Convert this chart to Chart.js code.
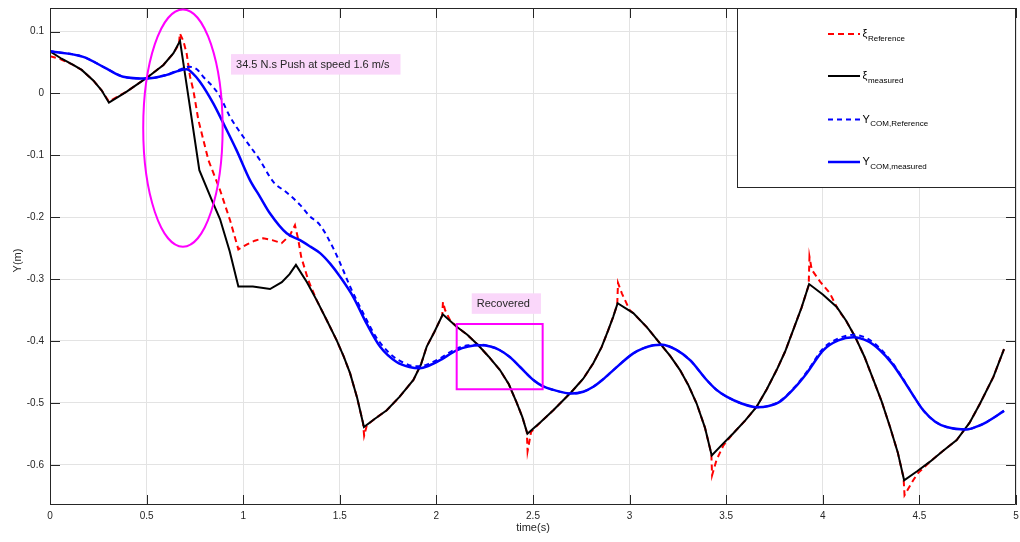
<!DOCTYPE html>
<html>
<head>
<meta charset="utf-8">
<script src="https://cdn.jsdelivr.net/npm/chart.js@4/dist/chart.umd.min.js"></script>
<style>
html,body{margin:0;padding:0;background:#fff;}
#wrap{width:1020px;height:542px;}
</style>
</head>
<body>
<div id="wrap"><canvas id="c" width="1020" height="542"></canvas></div>
<script>
// ---------- data ----------
const xTicks = [0,0.5,1,1.5,2,2.5,3,3.5,4,4.5,5];
const yTicks = [-0.6,-0.5,-0.4,-0.3,-0.2,-0.1,0,0.1];

const seriesLabels = ['ξ Reference','ξ measured','Y COM,Reference','Y COM,measured'];
const legendMain = ['ξ','ξ','Y','Y'];
const legendSub = ['Reference','measured','COM,Reference','COM,measured'];

const xiRefT = [0,0.05,0.12,0.164,0.224,0.267,0.305,0.397,0.5,0.587,0.639,0.668,0.672,0.69,0.707,0.725,0.742,0.768,0.82,0.88,0.932,0.975,1.02,1.06,1.104,1.15,1.199,1.242,1.268,1.285,1.3,1.337,1.38,1.43,1.484,1.52,1.553,1.59,1.62,1.626,1.64,1.68,1.743,1.81,1.881,1.92,1.95,1.99,2.03,2.034,2.045,2.07,2.105,2.16,2.217,2.27,2.329,2.375,2.416,2.445,2.468,2.472,2.49,2.54,2.605,2.7,2.76,2.812,2.855,2.89,2.915,2.936,2.94,2.96,3.0,3.019,3.09,3.157,3.21,3.261,3.305,3.347,3.39,3.423,3.427,3.45,3.485,3.537,3.6,3.658,3.71,3.761,3.805,3.847,3.89,3.927,3.931,3.943,3.986,4.037,4.08,4.12,4.167,4.215,4.262,4.305,4.348,4.388,4.418,4.423,4.44,4.468,4.494,4.555,4.62,4.693,4.76,4.814,4.883,4.938];
const xiRefY = [0.06,0.056,0.046,0.038,0.021,0.005,-0.013,0.003,0.025,0.046,0.065,0.08,0.097,0.085,0.065,0.027,0.005,-0.043,-0.108,-0.156,-0.205,-0.252,-0.244,-0.238,-0.234,-0.237,-0.242,-0.229,-0.213,-0.236,-0.264,-0.302,-0.334,-0.365,-0.399,-0.425,-0.452,-0.492,-0.532,-0.553,-0.536,-0.526,-0.512,-0.49,-0.463,-0.438,-0.409,-0.385,-0.359,-0.337,-0.35,-0.366,-0.377,-0.39,-0.407,-0.425,-0.447,-0.47,-0.5,-0.523,-0.547,-0.578,-0.547,-0.531,-0.512,-0.482,-0.461,-0.436,-0.41,-0.382,-0.361,-0.341,-0.306,-0.323,-0.35,-0.355,-0.378,-0.404,-0.424,-0.447,-0.472,-0.501,-0.54,-0.582,-0.617,-0.592,-0.569,-0.549,-0.528,-0.506,-0.478,-0.447,-0.417,-0.382,-0.346,-0.31,-0.264,-0.285,-0.304,-0.323,-0.35,-0.367,-0.393,-0.425,-0.463,-0.498,-0.539,-0.58,-0.621,-0.649,-0.64,-0.625,-0.613,-0.595,-0.578,-0.56,-0.532,-0.501,-0.458,-0.413];

const xiMeasT = [0,0.06,0.12,0.164,0.224,0.267,0.305,0.397,0.5,0.587,0.639,0.673,0.72,0.773,0.837,0.88,0.93,0.975,1.05,1.139,1.2,1.24,1.273,1.33,1.38,1.43,1.484,1.52,1.553,1.59,1.625,1.68,1.743,1.81,1.881,1.92,1.95,1.99,2.033,2.105,2.16,2.217,2.27,2.329,2.375,2.416,2.445,2.471,2.54,2.605,2.7,2.76,2.812,2.855,2.89,2.915,2.938,3.019,3.09,3.157,3.21,3.261,3.305,3.347,3.39,3.425,3.48,3.537,3.6,3.658,3.71,3.761,3.805,3.847,3.89,3.929,4.0,4.072,4.12,4.167,4.215,4.262,4.305,4.348,4.388,4.421,4.49,4.555,4.62,4.693,4.76,4.814,4.883,4.938];
const xiMeasY = [0.068,0.056,0.046,0.038,0.021,0.005,-0.015,0.003,0.025,0.046,0.065,0.085,-0.013,-0.124,-0.172,-0.203,-0.255,-0.312,-0.312,-0.316,-0.305,-0.292,-0.277,-0.305,-0.334,-0.365,-0.399,-0.425,-0.452,-0.492,-0.539,-0.526,-0.512,-0.49,-0.463,-0.438,-0.409,-0.385,-0.357,-0.377,-0.39,-0.407,-0.425,-0.447,-0.47,-0.5,-0.523,-0.55,-0.531,-0.512,-0.482,-0.461,-0.436,-0.41,-0.382,-0.361,-0.339,-0.355,-0.378,-0.404,-0.424,-0.447,-0.472,-0.501,-0.54,-0.585,-0.567,-0.549,-0.528,-0.506,-0.478,-0.447,-0.417,-0.382,-0.346,-0.308,-0.325,-0.345,-0.367,-0.393,-0.425,-0.463,-0.498,-0.539,-0.58,-0.625,-0.61,-0.595,-0.578,-0.56,-0.532,-0.501,-0.458,-0.413];

const comRefT = [0,0.172,0.293,0.379,0.5,0.604,0.66,0.72,0.76,0.793,0.84,0.88,0.932,1.0,1.087,1.156,1.225,1.294,1.34,1.398,1.466,1.51,1.553,1.6,1.639,1.68,1.725,1.78,1.829,1.87,1.915,1.96,2.019,2.105,2.165,2.226,2.28,2.329,2.38,2.433,2.502,2.55,2.605,2.7,2.76,2.812,2.87,2.916,3.019,3.07,3.123,3.166,3.24,3.313,3.399,3.45,3.502,3.58,3.658,3.72,3.778,3.85,3.917,4.002,4.08,4.158,4.23,4.296,4.36,4.417,4.47,4.52,4.58,4.641,4.745,4.8,4.848,4.938];
const comRefY = [0.068,0.059,0.04,0.027,0.024,0.03,0.037,0.043,0.039,0.027,0.012,-0.005,-0.038,-0.07,-0.108,-0.143,-0.16,-0.18,-0.197,-0.213,-0.25,-0.28,-0.312,-0.342,-0.366,-0.39,-0.409,-0.426,-0.435,-0.44,-0.441,-0.437,-0.428,-0.412,-0.407,-0.406,-0.409,-0.415,-0.426,-0.442,-0.463,-0.473,-0.479,-0.485,-0.482,-0.474,-0.46,-0.447,-0.42,-0.412,-0.407,-0.406,-0.414,-0.431,-0.463,-0.479,-0.49,-0.501,-0.507,-0.505,-0.497,-0.476,-0.45,-0.412,-0.396,-0.39,-0.396,-0.412,-0.435,-0.462,-0.489,-0.512,-0.53,-0.539,-0.543,-0.538,-0.531,-0.513];

const comMeasT = [0,0.172,0.293,0.379,0.5,0.604,0.66,0.708,0.74,0.776,0.845,0.897,0.966,1.035,1.087,1.139,1.225,1.294,1.35,1.398,1.45,1.501,1.57,1.639,1.708,1.794,1.86,1.915,1.96,2.019,2.105,2.165,2.226,2.28,2.329,2.38,2.433,2.502,2.55,2.605,2.7,2.76,2.812,2.87,2.916,3.019,3.07,3.123,3.166,3.24,3.313,3.399,3.45,3.502,3.58,3.658,3.72,3.778,3.85,3.917,4.002,4.08,4.158,4.23,4.296,4.36,4.417,4.47,4.52,4.58,4.641,4.745,4.8,4.848,4.938];
const comMeasY = [0.068,0.059,0.04,0.027,0.024,0.03,0.036,0.039,0.032,0.019,-0.016,-0.048,-0.092,-0.14,-0.167,-0.194,-0.226,-0.237,-0.248,-0.258,-0.275,-0.296,-0.329,-0.372,-0.409,-0.434,-0.442,-0.444,-0.44,-0.431,-0.415,-0.409,-0.407,-0.409,-0.415,-0.426,-0.442,-0.463,-0.473,-0.479,-0.485,-0.482,-0.474,-0.46,-0.447,-0.42,-0.412,-0.407,-0.406,-0.414,-0.431,-0.463,-0.479,-0.49,-0.501,-0.507,-0.505,-0.498,-0.477,-0.452,-0.415,-0.399,-0.394,-0.4,-0.415,-0.437,-0.463,-0.489,-0.512,-0.53,-0.539,-0.543,-0.538,-0.531,-0.513];

// ---------- helpers ----------
const zip = (ts, ys) => ts.map((t, i) => ({x: t, y: ys[i]}));
const FONT = "'Liberation Sans', Arial, Helvetica, sans-serif";
const AXC = '#262626';

// annotation geometry (data units)
const annot = {
  ellipse: {cx: 0.688, cy: -0.056, rx: 0.2055, ry: 0.1917},
  rect: {x0: 2.105, x1: 2.55, y0: -0.3727, y1: -0.478},
  texts: [
    {text: '34.5 N.s Push at speed 1.6 m/s', x: 0.937, y: 0.0635},
    {text: 'Recovered', x: 2.183, y: -0.323}
  ]
};

const decor = {
  id: 'decor',
  afterDraw(chart) {
    const {ctx, chartArea: a, scales: {x, y}} = chart;
    ctx.save();
    // axes box
    ctx.strokeStyle = AXC; ctx.lineWidth = 1;
    ctx.beginPath();
    ctx.rect(Math.round(a.left) + 0.5, Math.round(a.top) + 0.5, Math.round(a.right - a.left) - 1, Math.round(a.bottom - a.top) - 1);
    ctx.stroke();
    // inward ticks
    ctx.beginPath();
    xTicks.forEach(v => {
      const px = Math.round(x.getPixelForValue(v)) + 0.5;
      ctx.moveTo(px, a.bottom); ctx.lineTo(px, a.bottom - 10);
      ctx.moveTo(px, a.top); ctx.lineTo(px, a.top + 10);
    });
    yTicks.forEach(v => {
      const py = Math.round(y.getPixelForValue(v)) + 0.5;
      ctx.moveTo(a.left, py); ctx.lineTo(a.left + 10, py);
      ctx.moveTo(a.right, py); ctx.lineTo(a.right - 10, py);
    });
    ctx.stroke();

    // axis titles
    ctx.fillStyle = AXC;
    ctx.font = '11px ' + FONT;
    ctx.textAlign = 'center'; ctx.textBaseline = 'middle';
    ctx.fillText('time(s)', (a.left + a.right) / 2, 528);
    ctx.save();
    ctx.translate(18, (a.top + a.bottom) / 2 + 4);
    ctx.rotate(-Math.PI / 2);
    ctx.fillText('Y(m)', 0, 0);
    ctx.restore();

    // magenta ellipse
    const e = annot.ellipse;
    const ecx = x.getPixelForValue(e.cx), ecy = y.getPixelForValue(e.cy);
    const erx = x.getPixelForValue(e.cx + e.rx) - ecx;
    const ery = ecy - y.getPixelForValue(e.cy + e.ry);
    ctx.strokeStyle = '#FF00FF'; ctx.lineWidth = 2;
    ctx.beginPath(); ctx.ellipse(ecx, ecy, erx, ery, 0, 0, Math.PI * 2); ctx.stroke();
    // magenta rectangle
    const r = annot.rect;
    const rx0 = x.getPixelForValue(r.x0), rx1 = x.getPixelForValue(r.x1);
    const ry0 = y.getPixelForValue(r.y0), ry1 = y.getPixelForValue(r.y1);
    ctx.beginPath(); ctx.rect(rx0, ry0, rx1 - rx0, ry1 - ry0); ctx.stroke();

    // text boxes
    ctx.font = '11px ' + FONT;
    ctx.textAlign = 'left'; ctx.textBaseline = 'middle';
    annot.texts.forEach(tb => {
      const bx = x.getPixelForValue(tb.x), by = y.getPixelForValue(tb.y);
      const w = ctx.measureText(tb.text).width + 16, h = 20.5;
      ctx.fillStyle = '#FAD7FA';
      ctx.fillRect(bx, by, w, h);
      ctx.fillStyle = '#262626';
      ctx.fillText(tb.text, bx + 5, by + h / 2 + 0.5);
    });

    // legend
    const L = {x: 737.5, y: 8.5, w: 278, h: 179};
    ctx.fillStyle = '#fff';
    ctx.fillRect(L.x, L.y, L.w, L.h);
    ctx.strokeStyle = AXC; ctx.lineWidth = 1;
    ctx.strokeRect(L.x, L.y, L.w, L.h);
    const rowsY = [34, 76, 119.5, 162];
    chart.data.datasets.forEach((ds, i) => {
      const ry = rowsY[i];
      ctx.save();
      ctx.strokeStyle = ds.borderColor;
      ctx.lineWidth = ds.borderWidth;
      ctx.setLineDash(ds.borderDash || []);
      ctx.beginPath(); ctx.moveTo(828, ry); ctx.lineTo(860, ry); ctx.stroke();
      ctx.restore();
      ctx.fillStyle = '#000';
      ctx.textAlign = 'left'; ctx.textBaseline = 'alphabetic';
      ctx.font = '11px ' + FONT;
      const mainW = ctx.measureText(legendMain[i]).width;
      const base = ry + 3;
      ctx.fillText(legendMain[i], 862.5, base);
      ctx.font = '8px ' + FONT;
      ctx.fillText(legendSub[i], 862.5 + mainW + 0.5, base + 3.5);
    });
    ctx.restore();
  }
};

new Chart(document.getElementById('c'), {
  type: 'line',
  data: {
    datasets: [
      {label: seriesLabels[0], data: zip(xiRefT, xiRefY), borderColor: '#FF0000', borderWidth: 2, borderDash: [6, 4], pointRadius: 0, tension: 0, fill: false, order: 4},
      {label: seriesLabels[1], data: zip(xiMeasT, xiMeasY), borderColor: '#000000', borderWidth: 2, pointRadius: 0, tension: 0, fill: false, order: 3},
      {label: seriesLabels[2], data: zip(comRefT, comRefY), borderColor: '#0000FF', borderWidth: 2, borderDash: [5, 4], pointRadius: 0, cubicInterpolationMode: 'monotone', fill: false, order: 2},
      {label: seriesLabels[3], data: zip(comMeasT, comMeasY), borderColor: '#0000FF', borderWidth: 2.5, pointRadius: 0, cubicInterpolationMode: 'monotone', fill: false, order: 1}
    ]
  },
  options: {
    responsive: false,
    animation: false,
    devicePixelRatio: 1,
    layout: {padding: {left: 0, right: 4, top: 8, bottom: 0}},
    plugins: {legend: {display: false}, tooltip: {enabled: false}, title: {display: false}},
    scales: {
      x: {
        type: 'linear', min: 0, max: 5,
        afterBuildTicks: s => { s.ticks = xTicks.map(v => ({value: v})); },
        afterFit: s => { s.height = 37; s.paddingLeft = 0; s.paddingRight = 0; },
        grid: {color: '#E3E3E3', lineWidth: 1, drawTicks: false},
        border: {display: false},
        ticks: {color: AXC, font: {family: FONT, size: 10}, padding: 5, maxRotation: 0, autoSkip: false, callback: v => String(v)}
      },
      y: {
        type: 'linear', min: -0.665, max: 0.138,
        afterBuildTicks: s => { s.ticks = yTicks.map(v => ({value: v})); },
        afterFit: s => { s.width = 50; s.paddingTop = 0; s.paddingBottom = 0; },
        grid: {color: '#E3E3E3', lineWidth: 1, drawTicks: false},
        border: {display: false},
        ticks: {color: AXC, font: {family: FONT, size: 10}, padding: 6, autoSkip: false, callback: v => String(v)}
      }
    }
  },
  plugins: [decor]
});
</script>
</body>
</html>
